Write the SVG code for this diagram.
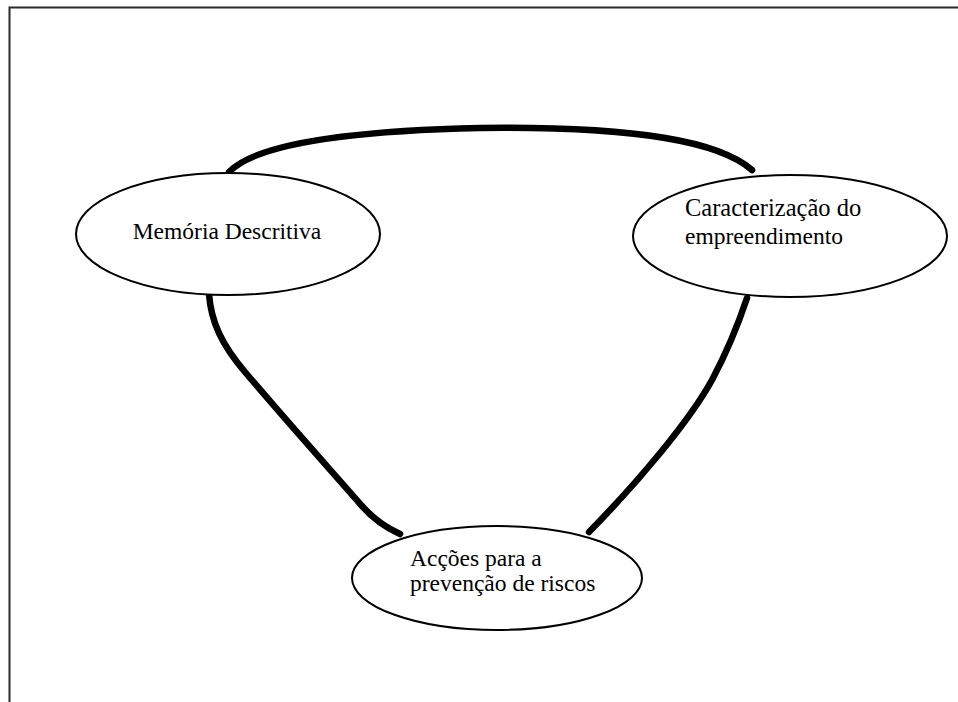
<svg xmlns="http://www.w3.org/2000/svg" width="958" height="702" viewBox="0 0 958 702">
<style>
.frame{fill:none;stroke:#2a2a2a;stroke-width:2}
.node ellipse{fill:#fff;stroke:#000;stroke-width:2}
.node text{font-family:"Liberation Serif","Times New Roman",serif;font-size:23.5px;fill:#000}
.node text.wide{font-size:24.5px}
.conn path{fill:none;stroke:#000;stroke-width:6.5;stroke-linecap:round;stroke-linejoin:round}
</style>
<rect width="958" height="702" fill="#fff"/>
<path class="frame" d="M9.5,702 V7.5 H958"/>
<g id="connectors" class="conn">
<path d="M229,172 C255,145 340,131 480,128 C640,126 720,142 752,170"/>
<path d="M209,294 C211,322 222,345 245,372 C290,425 335,475 362,506 Q378,524 400,534"/>
<path d="M747,298 C738,325 728,350 712,380 C690,420 640,480 589,532"/>
</g>
<g id="node-memoria" class="node">
<ellipse cx="228" cy="234" rx="152" ry="61"/>
<text x="227" y="239" text-anchor="middle">Memória Descritiva</text>
</g>
<g id="node-caracterizacao" class="node">
<ellipse cx="790" cy="236" rx="157" ry="61"/>
<text class="wide" x="685" y="216">Caracterização do</text>
<text x="685" y="244">empreendimento</text>
</g>
<g id="node-accoes" class="node">
<ellipse cx="497" cy="578" rx="145" ry="52"/>
<text x="410" y="566">Acções para a</text>
<text x="410" y="591">prevenção de riscos</text>
</g>
</svg>
